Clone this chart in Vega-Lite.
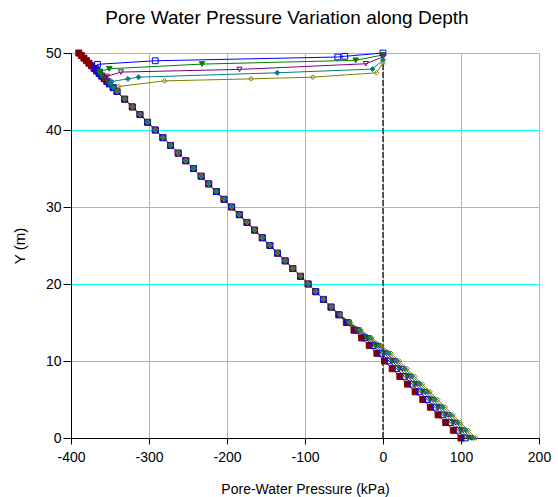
{
"$schema": "https://vega.github.io/schema/vega-lite/v6.json",
"width": 468, "height": 385,
"autosize": "none",
"padding": {"left": 71, "top": 53, "right": 19, "bottom": 59},
"background": "white",
"title": {"text": "Pore Water Pressure Variation along Depth", "font": "Liberation Sans", "fontSize": 19, "fontWeight": "normal", "color": "black", "anchor": "middle", "dx": -18, "offset": 18},
"config": {
"view": {"stroke": null},
"axis": {"grid": true, "gridColor": "#00FFFF", "gridOpacity": 1, "gridWidth": 1, "domainColor": "black", "tickColor": "black", "labelFont": "Liberation Sans", "labelFontSize": 14, "labelColor": "black", "labelFlush": false, "labelExpr": "'' + datum.value", "titleFont": "Liberation Sans", "titleFontWeight": "normal", "titleColor": "black"},
"axisX": {"tickSize": 6, "labelPadding": 6, "titleFontSize": 14, "titlePadding": 18},
"axisY": {"tickSize": 8, "labelPadding": 2, "titleFontSize": 15, "titlePadding": 18}
},
"datasets": {
"nodes": [
{"s":"a","y":0,"p":100},{"s":"a","y":1,"p":90.2},{"s":"a","y":2,"p":80.4},{"s":"a","y":3,"p":70.6},{"s":"a","y":4,"p":60.8},{"s":"a","y":5,"p":51},{"s":"a","y":6,"p":41.2},{"s":"a","y":7,"p":31.4},{"s":"a","y":8,"p":21.6},{"s":"a","y":9,"p":11.8},{"s":"a","y":10,"p":2},{"s":"a","y":11,"p":-7.8},{"s":"a","y":12,"p":-17.6},{"s":"a","y":13,"p":-27.4},{"s":"a","y":14,"p":-37.2},{"s":"a","y":15,"p":-47},{"s":"a","y":16,"p":-56.8},{"s":"a","y":17,"p":-66.6},{"s":"a","y":18,"p":-76.4},{"s":"a","y":19,"p":-86.2},{"s":"a","y":20,"p":-96},{"s":"a","y":21,"p":-105.8},{"s":"a","y":22,"p":-115.6},{"s":"a","y":23,"p":-125.4},{"s":"a","y":24,"p":-135.2},{"s":"a","y":25,"p":-145},{"s":"a","y":26,"p":-154.8},{"s":"a","y":27,"p":-164.6},{"s":"a","y":28,"p":-174.4},{"s":"a","y":29,"p":-184.2},{"s":"a","y":30,"p":-194},{"s":"a","y":31,"p":-203.8},{"s":"a","y":32,"p":-213.6},{"s":"a","y":33,"p":-223.4},{"s":"a","y":34,"p":-233.2},{"s":"a","y":35,"p":-243},{"s":"a","y":36,"p":-252.8},{"s":"a","y":37,"p":-262.6},{"s":"a","y":38,"p":-272.4},{"s":"a","y":39,"p":-282.2},{"s":"a","y":40,"p":-292},{"s":"a","y":41,"p":-301.8},{"s":"a","y":42,"p":-311.6},{"s":"a","y":43,"p":-321.4},{"s":"a","y":44,"p":-331.2},{"s":"a","y":45,"p":-341},{"s":"a","y":45.5,"p":-345.9},{"s":"a","y":46,"p":-350.8},{"s":"a","y":46.33,"p":-354},{"s":"a","y":46.67,"p":-357.4},{"s":"a","y":47,"p":-360.6},{"s":"a","y":47.33,"p":-363.8},{"s":"a","y":47.67,"p":-367.2},{"s":"a","y":48,"p":-370.4},{"s":"a","y":48.33,"p":-373.6},{"s":"a","y":48.67,"p":-377},{"s":"a","y":49,"p":-380.2},{"s":"a","y":49.33,"p":-383.4},{"s":"a","y":49.67,"p":-386.8},{"s":"a","y":50,"p":-390},

{"s":"b","y":0,"p":105.7},{"s":"b","y":1,"p":95.9},{"s":"b","y":2,"p":86.1},{"s":"b","y":3,"p":76.3},{"s":"b","y":4,"p":66.5},{"s":"b","y":5,"p":56.7},{"s":"b","y":6,"p":46.9},{"s":"b","y":7,"p":37.1},{"s":"b","y":8,"p":27.3},{"s":"b","y":9,"p":17.5},{"s":"b","y":10,"p":7.7},{"s":"b","y":11,"p":-2.4},{"s":"b","y":12,"p":-12.8},{"s":"b","y":13,"p":-23.5},{"s":"b","y":14,"p":-34.5},{"s":"b","y":15,"p":-45.5},{"s":"b","y":16,"p":-56.2},{"s":"b","y":17,"p":-66.6},{"s":"b","y":18,"p":-76.4},{"s":"b","y":19,"p":-86.2},{"s":"b","y":20,"p":-96},{"s":"b","y":21,"p":-105.8},{"s":"b","y":22,"p":-115.6},{"s":"b","y":23,"p":-125.4},{"s":"b","y":24,"p":-135.2},{"s":"b","y":25,"p":-145},{"s":"b","y":26,"p":-154.8},{"s":"b","y":27,"p":-164.6},{"s":"b","y":28,"p":-174.4},{"s":"b","y":29,"p":-184.2},{"s":"b","y":30,"p":-194},{"s":"b","y":31,"p":-203.8},{"s":"b","y":32,"p":-213.6},{"s":"b","y":33,"p":-223.4},{"s":"b","y":34,"p":-233.2},{"s":"b","y":35,"p":-243},{"s":"b","y":36,"p":-252.8},{"s":"b","y":37,"p":-262.6},{"s":"b","y":38,"p":-272.4},{"s":"b","y":39,"p":-282.2},{"s":"b","y":40,"p":-292},{"s":"b","y":41,"p":-301.8},{"s":"b","y":42,"p":-311.6},{"s":"b","y":43,"p":-321.4},{"s":"b","y":44,"p":-331.2},{"s":"b","y":45,"p":-341},{"s":"b","y":45.5,"p":-345.9},{"s":"b","y":46,"p":-350.8},{"s":"b","y":46.33,"p":-354},{"s":"b","y":46.67,"p":-357.4},{"s":"b","y":47,"p":-360.6},{"s":"b","y":47.33,"p":-363.8},{"s":"b","y":47.67,"p":-366.5},{"s":"b","y":48,"p":-368.5},{"s":"b","y":48.53,"p":-366},{"s":"b","y":48.99,"p":-292},{"s":"b","y":49.48,"p":-58},{"s":"b","y":49.57,"p":-49},{"s":"b","y":50,"p":0},

{"s":"c","y":0,"p":109.5},{"s":"c","y":1,"p":99.7},{"s":"c","y":2,"p":89.9},{"s":"c","y":3,"p":80.1},{"s":"c","y":4,"p":70.3},{"s":"c","y":5,"p":60.5},{"s":"c","y":6,"p":50.7},{"s":"c","y":7,"p":40.9},{"s":"c","y":8,"p":31.1},{"s":"c","y":9,"p":21.3},{"s":"c","y":10,"p":11.5},{"s":"c","y":11,"p":1.2},{"s":"c","y":12,"p":-9.6},{"s":"c","y":13,"p":-20.9},{"s":"c","y":14,"p":-32.7},{"s":"c","y":15,"p":-44.5},{"s":"c","y":16,"p":-55.8},{"s":"c","y":17,"p":-66.6},{"s":"c","y":18,"p":-76.4},{"s":"c","y":19,"p":-86.2},{"s":"c","y":20,"p":-96},{"s":"c","y":21,"p":-105.8},{"s":"c","y":22,"p":-115.6},{"s":"c","y":23,"p":-125.4},{"s":"c","y":24,"p":-135.2},{"s":"c","y":25,"p":-145},{"s":"c","y":26,"p":-154.8},{"s":"c","y":27,"p":-164.6},{"s":"c","y":28,"p":-174.4},{"s":"c","y":29,"p":-184.2},{"s":"c","y":30,"p":-194},{"s":"c","y":31,"p":-203.8},{"s":"c","y":32,"p":-213.6},{"s":"c","y":33,"p":-223.4},{"s":"c","y":34,"p":-233.2},{"s":"c","y":35,"p":-243},{"s":"c","y":36,"p":-252.8},{"s":"c","y":37,"p":-262.6},{"s":"c","y":38,"p":-272.4},{"s":"c","y":39,"p":-282.2},{"s":"c","y":40,"p":-292},{"s":"c","y":41,"p":-301.8},{"s":"c","y":42,"p":-311.6},{"s":"c","y":43,"p":-321.4},{"s":"c","y":44,"p":-331.2},{"s":"c","y":45,"p":-341},{"s":"c","y":45.5,"p":-345.9},{"s":"c","y":46,"p":-350.8},{"s":"c","y":46.33,"p":-354},{"s":"c","y":46.67,"p":-357.4},{"s":"c","y":47,"p":-360.6},{"s":"c","y":47.33,"p":-363},{"s":"c","y":47.6,"p":-362.7},{"s":"c","y":47.95,"p":-351},{"s":"c","y":48.56,"p":-232},{"s":"c","y":49.05,"p":-35},{"s":"c","y":49.75,"p":0},

{"s":"d","y":0,"p":112.9},{"s":"d","y":1,"p":103.1},{"s":"d","y":2,"p":93.3},{"s":"d","y":3,"p":83.5},{"s":"d","y":4,"p":73.7},{"s":"d","y":5,"p":63.9},{"s":"d","y":6,"p":54.1},{"s":"d","y":7,"p":44.3},{"s":"d","y":8,"p":34.5},{"s":"d","y":9,"p":24.7},{"s":"d","y":10,"p":14.9},{"s":"d","y":11,"p":4.4},{"s":"d","y":12,"p":-6.7},{"s":"d","y":13,"p":-18.6},{"s":"d","y":14,"p":-31.1},{"s":"d","y":15,"p":-43.6},{"s":"d","y":16,"p":-55.4},{"s":"d","y":17,"p":-66.6},{"s":"d","y":18,"p":-76.4},{"s":"d","y":19,"p":-86.2},{"s":"d","y":20,"p":-96},{"s":"d","y":21,"p":-105.8},{"s":"d","y":22,"p":-115.6},{"s":"d","y":23,"p":-125.4},{"s":"d","y":24,"p":-135.2},{"s":"d","y":25,"p":-145},{"s":"d","y":26,"p":-154.8},{"s":"d","y":27,"p":-164.6},{"s":"d","y":28,"p":-174.4},{"s":"d","y":29,"p":-184.2},{"s":"d","y":30,"p":-194},{"s":"d","y":31,"p":-203.8},{"s":"d","y":32,"p":-213.6},{"s":"d","y":33,"p":-223.4},{"s":"d","y":34,"p":-233.2},{"s":"d","y":35,"p":-243},{"s":"d","y":36,"p":-252.8},{"s":"d","y":37,"p":-262.6},{"s":"d","y":38,"p":-272.4},{"s":"d","y":39,"p":-282.2},{"s":"d","y":40,"p":-292},{"s":"d","y":41,"p":-301.8},{"s":"d","y":42,"p":-311.6},{"s":"d","y":43,"p":-321.4},{"s":"d","y":44,"p":-331.2},{"s":"d","y":45,"p":-341},{"s":"d","y":45.5,"p":-345.9},{"s":"d","y":46,"p":-350.8},{"s":"d","y":46.33,"p":-354},{"s":"d","y":46.67,"p":-356.5},{"s":"d","y":46.96,"p":-354},{"s":"d","y":47.52,"p":-336},{"s":"d","y":47.87,"p":-184},{"s":"d","y":48.6,"p":-22},{"s":"d","y":49.5,"p":0},

{"s":"e","y":0,"p":116},{"s":"e","y":1,"p":106.2},{"s":"e","y":2,"p":96.4},{"s":"e","y":3,"p":86.6},{"s":"e","y":4,"p":76.8},{"s":"e","y":5,"p":67},{"s":"e","y":6,"p":57.2},{"s":"e","y":7,"p":47.4},{"s":"e","y":8,"p":37.6},{"s":"e","y":9,"p":27.8},{"s":"e","y":10,"p":18},{"s":"e","y":11,"p":7.3},{"s":"e","y":12,"p":-4.2},{"s":"e","y":13,"p":-16.5},{"s":"e","y":14,"p":-29.6},{"s":"e","y":15,"p":-42.8},{"s":"e","y":16,"p":-55.1},{"s":"e","y":17,"p":-66.2},{"s":"e","y":18,"p":-76.4},{"s":"e","y":19,"p":-86.2},{"s":"e","y":20,"p":-96},{"s":"e","y":21,"p":-105.8},{"s":"e","y":22,"p":-115.6},{"s":"e","y":23,"p":-125.4},{"s":"e","y":24,"p":-135.2},{"s":"e","y":25,"p":-145},{"s":"e","y":26,"p":-154.8},{"s":"e","y":27,"p":-164.6},{"s":"e","y":28,"p":-174.4},{"s":"e","y":29,"p":-184.2},{"s":"e","y":30,"p":-194},{"s":"e","y":31,"p":-203.8},{"s":"e","y":32,"p":-213.6},{"s":"e","y":33,"p":-223.4},{"s":"e","y":34,"p":-233.2},{"s":"e","y":35,"p":-243},{"s":"e","y":36,"p":-252.8},{"s":"e","y":37,"p":-262.6},{"s":"e","y":38,"p":-272.4},{"s":"e","y":39,"p":-282.2},{"s":"e","y":40,"p":-292},{"s":"e","y":41,"p":-301.8},{"s":"e","y":42,"p":-311.6},{"s":"e","y":43,"p":-321.4},{"s":"e","y":44,"p":-331.2},{"s":"e","y":45,"p":-341},{"s":"e","y":45.5,"p":-345.5},{"s":"e","y":46,"p":-349.5},{"s":"e","y":46.3,"p":-348},{"s":"e","y":46.64,"p":-327},{"s":"e","y":46.86,"p":-313.5},{"s":"e","y":47.43,"p":-135.6},{"s":"e","y":47.91,"p":-13.5},{"s":"e","y":49.1,"p":0},

{"s":"f","y":0,"p":119},{"s":"f","y":1,"p":109.2},{"s":"f","y":2,"p":99.4},{"s":"f","y":3,"p":89.6},{"s":"f","y":4,"p":79.8},{"s":"f","y":5,"p":70},{"s":"f","y":6,"p":60.2},{"s":"f","y":7,"p":50.4},{"s":"f","y":8,"p":40.6},{"s":"f","y":9,"p":30.8},{"s":"f","y":10,"p":21},{"s":"f","y":11,"p":10.2},{"s":"f","y":12,"p":-1.6},{"s":"f","y":13,"p":-14.4},{"s":"f","y":14,"p":-28.2},{"s":"f","y":15,"p":-42},{"s":"f","y":16,"p":-54.8},{"s":"f","y":17,"p":-66.1},{"s":"f","y":18,"p":-76.4},{"s":"f","y":19,"p":-86.2},{"s":"f","y":20,"p":-96},{"s":"f","y":21,"p":-105.8},{"s":"f","y":22,"p":-115.6},{"s":"f","y":23,"p":-125.4},{"s":"f","y":24,"p":-135.2},{"s":"f","y":25,"p":-145},{"s":"f","y":26,"p":-154.8},{"s":"f","y":27,"p":-164.6},{"s":"f","y":28,"p":-174.4},{"s":"f","y":29,"p":-184.2},{"s":"f","y":30,"p":-194},{"s":"f","y":31,"p":-203.8},{"s":"f","y":32,"p":-213.6},{"s":"f","y":33,"p":-223.4},{"s":"f","y":34,"p":-233.2},{"s":"f","y":35,"p":-243},{"s":"f","y":36,"p":-252.8},{"s":"f","y":37,"p":-262.6},{"s":"f","y":38,"p":-272.4},{"s":"f","y":39,"p":-282.2},{"s":"f","y":40,"p":-292},{"s":"f","y":41,"p":-301.8},{"s":"f","y":42,"p":-311.6},{"s":"f","y":43,"p":-321.4},{"s":"f","y":44,"p":-331.2},{"s":"f","y":45,"p":-340},{"s":"f","y":45.65,"p":-339},{"s":"f","y":46.38,"p":-280},{"s":"f","y":46.64,"p":-169},{"s":"f","y":46.86,"p":-90},{"s":"f","y":47.43,"p":-8.4},{"s":"f","y":48.7,"p":0}
],
"zero": [{"p": 0, "y1": 0, "y2": 50}]
},
"layer": [
{
"data": {"name": "zero"},
"mark": {"type": "rule", "color": "black", "strokeDash": [6, 2], "strokeWidth": 1.2},
"encoding": {
"x": {"field": "p", "type": "quantitative", "scale": {"domain": [-400, 200], "nice": false}, "axis": {"title": "Pore-Water Pressure (kPa)", "values": [-400, -300, -200, -100, 0, 100, 200]}},
"y": {"field": "y1", "type": "quantitative", "scale": {"domain": [0, 50], "nice": false}, "axis": {"title": "Y (m)", "values": [0, 10, 20, 30, 40, 50]}},
"y2": {"field": "y2"}
}
},
{
"data": {"name": "nodes"},
"mark": {"type": "line", "strokeWidth": 1},
"encoding": {
"x": {"field": "p", "type": "quantitative", "axis": {"title": "Pore-Water Pressure (kPa)", "values": [-400, -300, -200, -100, 0, 100, 200]}},
"y": {"field": "y", "type": "quantitative", "axis": {"title": "Y (m)", "values": [0, 10, 20, 30, 40, 50]}},
"order": {"field": "y", "type": "quantitative"},
"color": {"field": "s", "type": "nominal", "scale": {"domain": ["a", "b", "c", "d", "e", "f"], "range": ["#800000", "#0000FF", "#008000", "#800080", "#008080", "#808000"]}, "legend": null}
}
},
{
"data": {"name": "nodes"},
"mark": {"type": "point", "opacity": 1, "strokeWidth": 1},
"encoding": {
"x": {"field": "p", "type": "quantitative", "axis": {"title": "Pore-Water Pressure (kPa)", "values": [-400, -300, -200, -100, 0, 100, 200]}},
"y": {"field": "y", "type": "quantitative", "axis": {"title": "Y (m)", "values": [0, 10, 20, 30, 40, 50]}},
"stroke": {"field": "s", "type": "nominal", "scale": {"domain": ["a", "b", "c", "d", "e", "f"], "range": ["#800000", "#0000FF", "#008000", "#800080", "#008080", "#808000"]}, "legend": null},
"fill": {"field": "s", "type": "nominal", "scale": {"domain": ["a", "b", "c", "d", "e", "f"], "range": ["#800000", "transparent", "#008000", "transparent", "#008080", "transparent"]}, "legend": null},
"shape": {"field": "s", "type": "nominal", "scale": {"domain": ["a", "b", "c", "d", "e", "f"], "range": ["square", "square", "triangle-down", "triangle-down", "diamond", "diamond"]}, "legend": null},
"size": {"field": "s", "type": "nominal", "scale": {"domain": ["a", "b", "c", "d", "e", "f"], "range": [36, 22, 24, 24, 22, 22]}, "legend": null}
}
}
]
}
